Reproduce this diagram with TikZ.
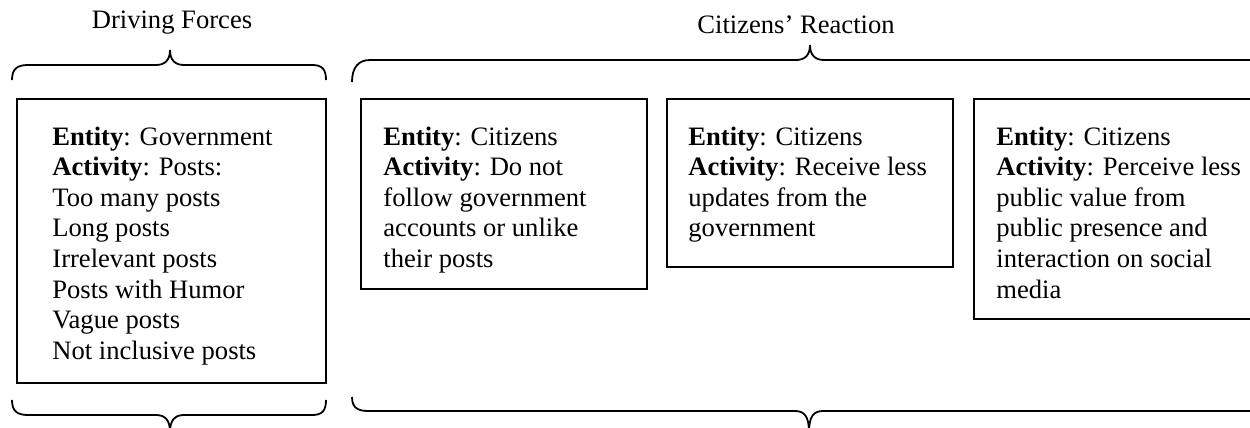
\documentclass[tikz,border=0pt]{standalone}
\usepackage{fontspec}
\setmainfont{Liberation Serif}
\begin{document}
\begin{tikzpicture}[x=0.5pt,y=-0.5pt,
  boxstyle/.style={draw=black,line width=1pt,inner sep=0pt},
  txt/.style={anchor=base west,inner sep=0pt,align=left,font=\fontsize{13.3}{15.3}\selectfont},
  lbl/.style={anchor=base,inner sep=0pt,font=\fontsize{13.3}{15.3}\selectfont},
  bracestyle/.style={draw=black,line width=0.9pt}]
\clip (0,0) rectangle (1250,428);
% labels
\node[lbl] (df) at (172,28) {Driving Forces};
\node[lbl] (cr) at (796,33) {Citizens’ Reaction};
% boxes
\draw[boxstyle] (17,99) rectangle (326,383);
\node[inner sep=0pt] (b1) at (171.5,241) {};
\draw[boxstyle] (361,99) rectangle (647,289);
\node[inner sep=0pt] (b2) at (504,194) {};
\draw[boxstyle] (667,99) rectangle (953,267);
\node[inner sep=0pt] (b3) at (810,183) {};
\draw[boxstyle] (974,99) rectangle (1262,319);
\node[inner sep=0pt] (b4) at (1118,209) {};
% texts (base anchor = baseline of last line)
\node[txt] (t1) at (52,359.2) {\textbf{Entity}: Government\\\textbf{Activity}: Posts:\\Too many posts\\Long posts\\Irrelevant posts\\Posts with Humor\\Vague posts\\Not inclusive posts};
\node[txt] (t2) at (383,267.4) {\textbf{Entity}: Citizens\\\textbf{Activity}: Do not\\follow government\\accounts or unlike\\their posts};
\node[txt] (t3) at (688,236.8) {\textbf{Entity}: Citizens\\\textbf{Activity}: Receive less\\updates from the\\government};
\node[txt] (t4) at (996,298) {\textbf{Entity}: Citizens\\\textbf{Activity}: Perceive less\\public value from\\public presence and\\interaction on social\\media};
% top braces
\draw[bracestyle] (12,80) .. controls (12,69) and (17,65) .. (28,65) -- (156,65)
  .. controls (165,65) and (170,60) .. (170,50)
  .. controls (170,60) and (175,65) .. (184,65) -- (312,65)
  .. controls (322,65) and (326,69) .. (326,80);
\draw[bracestyle] (352,82) .. controls (352,68) and (358,60) .. (370,60) -- (796,60)
  .. controls (805,60) and (810,55) .. (810,45)
  .. controls (810,55) and (815,60) .. (824,60) -- (1262,60);
% bottom braces
\draw[bracestyle] (12,400) .. controls (12,411) and (17,415) .. (28,415) -- (156,415)
  .. controls (165,415) and (170,420) .. (170,432)
  (170,432) .. controls (170,420) and (175,415) .. (184,415) -- (312,415)
  .. controls (322,415) and (326,411) .. (326,400);
\draw[bracestyle] (352,397) .. controls (352,407) and (357,411) .. (368,411) -- (795,411)
  .. controls (804,411) and (809,416) .. (809,432)
  (809,432) .. controls (809,416) and (814,411) .. (823,411) -- (1262,411);
\end{tikzpicture}
\end{document}
